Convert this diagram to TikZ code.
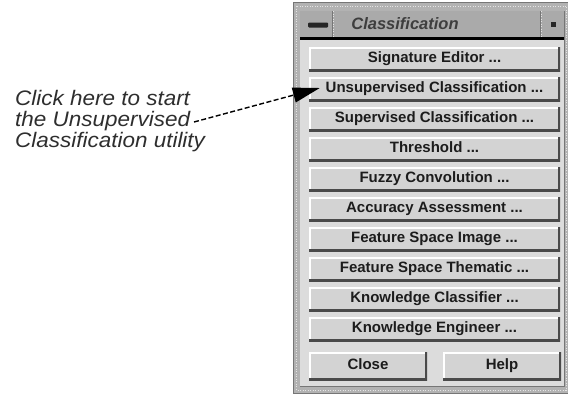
\documentclass[tikz,border=0pt]{standalone}
\usepackage{fontspec}
\setmainfont{Liberation Sans}
\newfontfamily\calloutfont[FakeStretch=1.07]{Liberation Sans}
\usetikzlibrary{arrows.meta}
\definecolor{framegray}{HTML}{B2B2B2}
\definecolor{framedark}{HTML}{767676}
\definecolor{framelight}{HTML}{E4E4E4}
\definecolor{titlegray}{HTML}{AAAAAA}
\definecolor{panelgray}{HTML}{DCDCDC}
\definecolor{btngray}{HTML}{D3D3D3}
\definecolor{btnshadow}{HTML}{4A4A4A}
\definecolor{inktext}{HTML}{1C1C1C}
\definecolor{notetext}{HTML}{2E2E2E}
\begin{document}
\begin{tikzpicture}[x=1pt,y=-1pt,
  uibtn/.style={draw=none, fill=btngray, inner sep=0pt,
    minimum height=24pt, minimum width=251pt,
    text height=11pt, text depth=3.2pt,
    font=\fontsize{15}{18}\selectfont\bfseries, text=inktext,
    path picture={
      \draw[white, line width=3pt]
        (path picture bounding box.south west) |- (path picture bounding box.north east);
      \draw[btnshadow, line width=4pt]
        (path picture bounding box.south west) -| (path picture bounding box.north east);
    }},
  smallbtn/.style={uibtn, minimum width=118pt, minimum height=28pt},
  titletext/.style={inner sep=0pt, text=inktext!85,
    font=\fontsize{16.5}{18}\selectfont\bfseries\itshape},
  note/.style={inner sep=0pt, align=left, text=notetext,
    font=\fontsize{21}{21}\calloutfont\itshape},
  leader/.style={line width=1.4pt, dash pattern=on 5pt off 2.5pt,
    -{Triangle[length=27pt,width=15pt]}}
]
\useasboundingbox (0,0) rectangle (568,394);

% window frame with stippled border
\fill[framegray] (293,2) rectangle (568,394);
\draw[framedark, line width=0.8pt] (293.4,2.4) rectangle (568,393.6);
\draw[framelight, line width=1pt, dash pattern=on 1pt off 1.5pt]
  (296.5,6) rectangle (566,390);
\draw[framedark, line width=0.8pt] (300,11) rectangle (564,386);

% title bar
\fill[titlegray] (300,11) rectangle (564,37);
\draw[framedark, line width=1pt] (332,11) -- (332,37);
\draw[framelight, line width=1pt, dash pattern=on 1pt off 1.5pt] (333.5,11) -- (333.5,37);
\draw[framedark, line width=1pt] (540,11) -- (540,37);
\draw[framelight, line width=1pt, dash pattern=on 1pt off 1.5pt] (541.5,11) -- (541.5,37);
\fill[black!85, rounded corners=1pt] (308,22.5) rectangle (328,27.5);
\fill[black!85] (551,21.5) rectangle (556,26.5);
\node[titletext] (title) at (405,24) {Classification};
\fill[black] (300,37) rectangle (564,39.5);

% panel
\fill[panelgray] (300.4,39.5) rectangle (563.6,385.6);

% menu buttons
\node[uibtn] (sig)   at (434.5,59)  {Signature Editor ...};
\node[uibtn] (unsup) at (434.5,89)  {Unsupervised Classification ...};
\node[uibtn] (sup)   at (434.5,119) {Supervised Classification ...};
\node[uibtn] (thr)   at (434.5,149) {Threshold ...};
\node[uibtn] (fuzzy) at (434.5,179) {Fuzzy Convolution ...};
\node[uibtn] (acc)   at (434.5,209) {Accuracy Assessment ...};
\node[uibtn] (fsi)   at (434.5,239) {Feature Space Image ...};
\node[uibtn] (fst)   at (434.5,269) {Feature Space Thematic ...};
\node[uibtn] (kc)    at (434.5,299) {Knowledge Classifier ...};
\node[uibtn] (ke)    at (434.5,329) {Knowledge Engineer ...};
\node[smallbtn] (close) at (368,366) {Close};
\node[smallbtn] (help)  at (502,366) {Help};

% callout
\node[note, anchor=north west] (note) at (15,90.5)
  {Click here to start\\the Unsupervised\\Classification utility};
\coordinate (lead) at (194,122);
\draw[leader] (lead) -- ([xshift=11pt,yshift=1pt]unsup.west);
\end{tikzpicture}
\end{document}
